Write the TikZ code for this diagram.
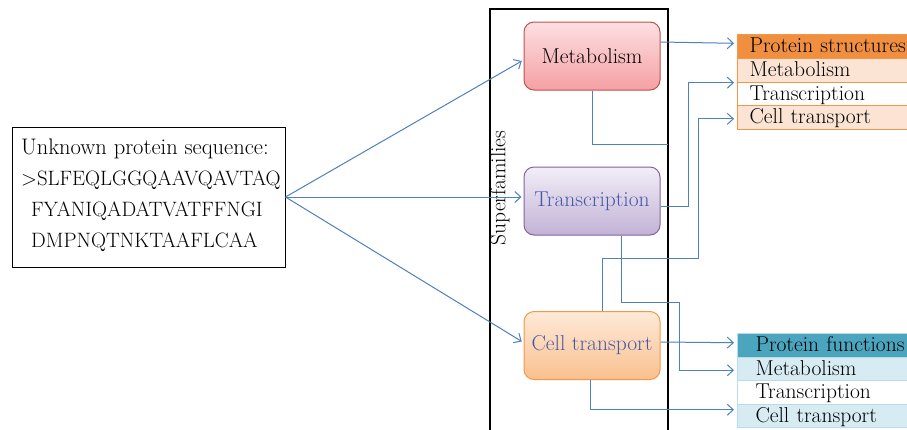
\documentclass[tikz,border=0pt]{standalone}
\usetikzlibrary{arrows.meta,calc}
\definecolor{linkc}{RGB}{79,129,189}
\definecolor{famtext}{RGB}{72,88,168}
\definecolor{metTop}{RGB}{253,224,226}
\definecolor{metBot}{RGB}{244,160,163}
\definecolor{metBorder}{RGB}{192,80,77}
\definecolor{trTop}{RGB}{242,238,247}
\definecolor{trBot}{RGB}{194,178,214}
\definecolor{trBorder}{RGB}{128,100,162}
\definecolor{ctTop}{RGB}{254,234,216}
\definecolor{ctBot}{RGB}{249,192,143}
\definecolor{ctBorder}{RGB}{247,150,70}
\definecolor{psHead}{RGB}{240,143,64}
\definecolor{psRow}{RGB}{252,228,212}
\definecolor{psBorder}{RGB}{247,150,70}
\definecolor{pfHead}{RGB}{75,165,190}
\definecolor{pfRow}{RGB}{214,236,242}
\definecolor{pfBorder}{RGB}{183,222,232}
\newcommand{\seqline}[1]{{\fontsize{20.8}{31}\selectfont #1}}
\tikzset{
  famil/.style={rounded corners=10pt, minimum width=136, minimum height=68,
    draw, line width=1pt, inner sep=0pt},
  seqbox/.style={draw=black, line width=1pt, minimum width=273, minimum height=140, inner sep=0pt},
  frameline/.style={draw=black, line width=1.2pt},
  plainlink/.style={draw=linkc, line width=1pt},
  link/.style={draw=linkc, line width=1pt, -{Straight Barb[length=6pt,width=11pt]}, shorten >=3pt},
  psrow/.style={draw=psBorder, line width=1.2pt, anchor=north west, minimum height=23.5,
    text width=170pt, inner xsep=12pt, inner ysep=0pt, align=left, text height=13.5pt, text depth=0.5pt},
  pfrow/.style={draw=pfBorder, line width=1pt, anchor=north west, minimum height=23.5,
    text width=158pt, inner xsep=18pt, inner ysep=0pt, align=left, text height=13.5pt, text depth=0.5pt},
}
\begin{document}
\begin{tikzpicture}[x=1pt,y=-1pt, font=\fontsize{21.5}{24}\selectfont]
\useasboundingbox[fill=white] (0,0) rectangle (907,429);

% input sequence
\node[seqbox] (seq) at (148.5,197) {};
\node[anchor=north west, align=left, inner sep=0pt, font=\fontsize{22.5}{31}\selectfont] (seqtext) at (21,139)
  {Unknown protein sequence:\\ \seqline{>SLFEQLGGQAAVQAVTAQ}\\ \seqline{\hspace{10pt}FYANIQADATVATFFNGI}\\ \seqline{\hspace{10pt}DMPNQTNKTAAFLCAA}};

% superfamilies frame
\draw[frameline] (490,432) -- (490,9) -- (668,9) -- (668,432);
\node[rotate=90, inner sep=0pt] (sflabel) at (500,188) {Superfamilies};

% family boxes
\node[famil, draw=metBorder, top color=metTop, bottom color=metBot] (met) at (592,56) {Metabolism};
\node[famil, draw=trBorder, top color=trTop, bottom color=trBot, text=famtext] (tr) at (592,201) {Transcription};
\node[famil, draw=ctBorder, top color=ctTop, bottom color=ctBot, text=famtext] (ct) at (592,345.5) {Cell transport};

% protein structures table
\node[psrow, fill=psHead] (psh) at (737,34) {Protein structures};
\node[psrow, fill=psRow] (psm) at (737,58) {Metabolism};
\node[psrow, fill=white] (pst) at (737,81.5) {Transcription};
\node[psrow, fill=psRow] (psc) at (737,105) {Cell transport};

% protein functions table
\node[pfrow, fill=pfHead] (pfh) at (737,333) {Protein functions};
\node[pfrow, fill=pfRow] (pfm) at (737,356.5) {Metabolism};
\node[pfrow, fill=white] (pft) at (737,380) {Transcription};
\node[pfrow, fill=pfRow] (pfc) at (737,403.5) {Cell transport};

% left connectors
\draw[link, shorten >=2pt] (seq.east) -- ($(met.west)+(0,4)$);
\draw[link, shorten >=2pt] (seq.east) -- ($(tr.west)+(0,-4)$);
\draw[link, shorten >=2pt] (seq.east) -- ($(ct.west)+(0,-3)$);

% right connectors
\draw[link] ($(met.east)+(0,-14)$) -- ($(psh.west)+(0,-3)$);
\coordinate (mend) at (668,144);
\draw[plainlink] (met.south) |- (mend);
\draw[link] ($(tr.east)+(0,5)$) -- ++(28,0) |- (psm.south west);
\draw[link] ($(ct.north)+(10,0)$) -- ++(0,-52.5) -- ++(96,0) |- ($(psc.west)+(0,1.5)$);
\draw[link] ($(tr.south)+(29,0)$) -- ++(0,67) -- ++(58,0) |- ($(pfm.west)+(0,1.5)$);
\draw[link] ($(ct.east)+(0,-3.5)$) -- ($(pfh.west)+(0,-2.5)$);
\draw[link] ($(ct.south)+(-2,0)$) |- ($(pfc.west)+(0,-6)$);
\end{tikzpicture}
\end{document}
